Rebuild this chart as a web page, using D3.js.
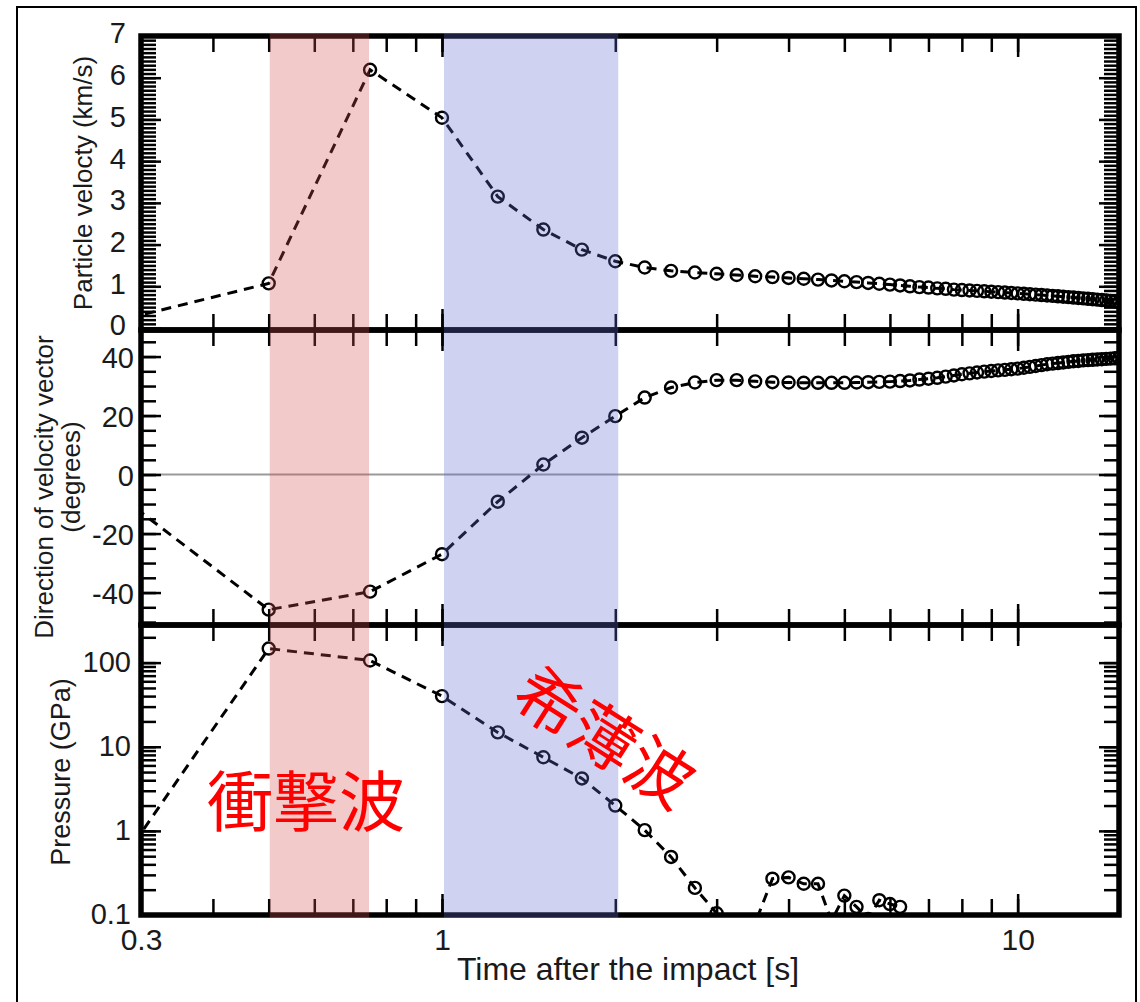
<!DOCTYPE html>
<html>
<head>
<meta charset="utf-8">
<script src="https://cdn.jsdelivr.net/npm/d3@7"></script>
<style>
  body { margin: 0; background: #fff; }
  text { font-family: "Liberation Sans", Arial, sans-serif; fill: #1a1a1a; }
</style>
</head>
<body>
<svg width="1140" height="1002"></svg>
<script>
// values, one sample every 0.25 s
const times = [0.25, 0.5, 0.75, 1, 1.25, 1.5, 1.75, 2, 2.25, 2.5, 2.75, 3, 3.25, 3.5, 3.75, 4,
  4.25, 4.5, 4.75, 5, 5.25, 5.5, 5.75, 6, 6.25, 6.5, 6.75, 7, 7.25, 7.5, 7.75, 8,
  8.25, 8.5, 8.75, 9, 9.25, 9.5, 9.75, 10, 10.25, 10.5, 10.75, 11, 11.25, 11.5, 11.75, 12,
  12.25, 12.5, 12.75, 13, 13.25, 13.5, 13.75, 14, 14.25, 14.5, 14.75, 15];

const velocity = [0.04, 1.07, 6.19, 5.04, 3.15, 2.36, 1.88, 1.6,
  1.45, 1.37, 1.33, 1.3, 1.27, 1.24, 1.22, 1.2,
  1.18, 1.16, 1.14, 1.12, 1.1, 1.08, 1.06, 1.04,
  1.02, 1.0, 0.98, 0.97, 0.95, 0.94, 0.92, 0.91,
  0.9, 0.89, 0.88, 0.87, 0.86, 0.85, 0.84, 0.83,
  0.82, 0.81, 0.8, 0.79, 0.78, 0.77, 0.76, 0.75,
  0.74, 0.73, 0.72, 0.71, 0.7, 0.69, 0.68, 0.67,
  0.66, 0.65, 0.64, 0.62];

const direction = [-1, -45.8, -39.7, -27, -9.2, 3.4, 12.5, 19.8,
  26.1, 29.5, 31.2, 32, 32, 31.6, 31.3, 31.2,
  31.1, 31.1, 31.1, 31.1, 31.2, 31.3, 31.4, 31.5,
  31.7, 31.9, 32.2, 32.5, 32.8, 33.2, 33.6, 34,
  34.3, 34.6, 34.9, 35.1, 35.3, 35.5, 35.7, 35.9,
  36.2, 36.5, 36.8, 37.1, 37.4, 37.6, 37.8, 38,
  38.2, 38.4, 38.5, 38.7, 38.8, 38.9, 39, 39.1,
  39.2, 39.3, 39.4, 39.5];

// pressure only up to 6.25 s (the rest is below 0.1 GPa)
const pressure = [0.155, 147, 106, 40, 14.8, 7.5, 4.2, 2.0,
  1.02, 0.49, 0.21, 0.105, 0.04, 0.08, 0.27, 0.28,
  0.235, 0.235, 0.085, 0.17, 0.125, 0.09, 0.15, 0.135, 0.125];

const xTickLabels = [0.3, 1, 10];
const velTickLabels = [0, 1, 2, 3, 4, 5, 6, 7];
const dirTickLabels = [-40, -20, 0, 20, 40];
const presTickLabels = [0.1, 1, 10, 100];

const shockBand = [0.5, 0.75];
const rarefactionBand = [1, 2];

// layout
const left = 141, right = 1119;
const svg = d3.select("svg");

const x = d3.scaleLog().domain([0.3, 15]).range([left, right]);
const xMinor = x.ticks();
const xMajor = [1, 10];

const isDecade = v => Math.abs(Math.log10(v) - Math.round(Math.log10(v))) < 1e-9;

const yVel = d3.scaleLinear().domain([0, 7]).range([328, 36]);
const yDir = d3.scaleLinear().domain([-51, 49]).range([625, 330]);
const yPres = d3.scaleLog().domain([0.1, 280]).range([915, 625]);

const panels = [
  { top: 36, bottom: 330, y: yVel, values: velocity, labels: velTickLabels, labelX: 126, dy: "0.24em",
    minor: yVel.ticks(70), major: yVel.ticks(7) },
  { top: 330, bottom: 625, y: yDir, values: direction, labels: dirTickLabels, labelX: 134, dy: "0.36em",
    minor: yDir.ticks(20), major: dirTickLabels },
  { top: 625, bottom: 915, y: yPres, values: pressure, labels: presTickLabels, labelX: 131, dy: "0.3em",
    minor: yPres.ticks(), major: yPres.ticks().filter(isDecade) }
];

const defs = svg.append("defs");

function tickGroup(g, axis, tx, ty) {
  const a = g.append("g").attr("transform", "translate(" + tx + "," + ty + ")").call(axis);
  a.select(".domain").remove();
  a.selectAll("line").attr("stroke", "#000").attr("stroke-width", 2.5);
  return a;
}

panels.forEach(function(p, i) {
  const g = svg.append("g");
  const y = p.y;

  defs.append("clipPath").attr("id", "clip" + i)
    .append("rect")
    .attr("x", left).attr("y", p.top)
    .attr("width", right - left).attr("height", p.bottom - p.top);

  // zero line in the direction panel
  if (i === 1) {
    g.append("line")
      .attr("x1", left).attr("x2", right)
      .attr("y1", y(0)).attr("y2", y(0))
      .attr("stroke", "#9a9a9a").attr("stroke-width", 2);
  }

  const pts = p.values.map((v, k) => ({ t: times[k], v: v }));

  g.append("path")
    .datum(pts)
    .attr("clip-path", "url(#clip" + i + ")")
    .attr("d", d3.line().x(d => x(d.t)).y(d => y(d.v)))
    .attr("fill", "none")
    .attr("stroke", "#000")
    .attr("stroke-width", 3)
    .attr("stroke-dasharray", "10,7");

  g.append("g")
    .attr("clip-path", "url(#clip" + i + ")")
    .selectAll("circle")
    .data(pts)
    .join("circle")
      .attr("cx", d => x(d.t))
      .attr("cy", d => y(d.v))
      .attr("r", 6)
      .attr("fill", "none")
      .attr("stroke", "#000")
      .attr("stroke-width", 2.4);

  // inward ticks on all four sides
  tickGroup(g, d3.axisLeft(y).tickValues(p.minor).tickSize(-15).tickFormat(""), left, 0);
  tickGroup(g, d3.axisLeft(y).tickValues(p.major).tickSize(-20).tickFormat(""), left, 0);
  tickGroup(g, d3.axisRight(y).tickValues(p.minor).tickSize(-15).tickFormat(""), right, 0);
  tickGroup(g, d3.axisRight(y).tickValues(p.major).tickSize(-20).tickFormat(""), right, 0);
  tickGroup(g, d3.axisTop(x).tickValues(xMinor).tickSize(-16).tickFormat(""), 0, p.top);
  tickGroup(g, d3.axisTop(x).tickValues(xMajor).tickSize(-21).tickFormat(""), 0, p.top);
  tickGroup(g, d3.axisBottom(x).tickValues(xMinor).tickSize(-16).tickFormat(""), 0, p.bottom);
  tickGroup(g, d3.axisBottom(x).tickValues(xMajor).tickSize(-21).tickFormat(""), 0, p.bottom);

  // tick labels
  const lab = g.append("g")
    .attr("transform", "translate(" + left + ",0)")
    .call(d3.axisLeft(y).tickValues(p.labels).tickSize(0).tickPadding(left - p.labelX).tickFormat(d => String(d)));
  lab.select(".domain").remove();
  lab.selectAll("text")
    .attr("dy", p.dy)
    .style("font-family", "'Liberation Sans', Arial, sans-serif")
    .style("font-size", "29px")
    .style("fill", "#1a1a1a");

  // frame
  g.append("rect")
    .attr("x", left).attr("y", p.top)
    .attr("width", right - left).attr("height", p.bottom - p.top)
    .attr("fill", "none")
    .attr("stroke", "#000")
    .attr("stroke-width", 5.5);
});

// x labels under the bottom panel
const xl = svg.append("g")
  .attr("transform", "translate(0,915)")
  .call(d3.axisBottom(x).tickValues(xTickLabels).tickSize(0).tickPadding(14).tickFormat(d => String(d)));
xl.select(".domain").remove();
xl.selectAll("text")
  .style("font-family", "'Liberation Sans', Arial, sans-serif")
  .style("font-size", "30px")
  .style("fill", "#1a1a1a");

// shaded time windows, laid over everything with transparency
svg.append("rect")
  .attr("x", x(shockBand[0]) + 1).attr("y", 33)
  .attr("width", x(shockBand[1]) - x(shockBand[0]) - 2).attr("height", 885)
  .attr("fill", "rgb(212,78,78)").attr("fill-opacity", 0.3);
svg.append("rect")
  .attr("x", x(rarefactionBand[0]) + 2).attr("y", 33)
  .attr("width", x(rarefactionBand[1]) - x(rarefactionBand[0]) + 1).attr("height", 885)
  .attr("fill", "rgb(95,108,208)").attr("fill-opacity", 0.3);

// axis titles
svg.append("text")
  .attr("transform", "translate(92,183) rotate(-90)")
  .attr("text-anchor", "middle")
  .style("font-size", "26px")
  .text("Particle velocty (km/s)");
svg.append("text")
  .attr("transform", "translate(53,487) rotate(-90)")
  .attr("text-anchor", "middle")
  .style("font-size", "26px")
  .text("Direction of velocity vector");
svg.append("text")
  .attr("transform", "translate(80,477) rotate(-90)")
  .attr("text-anchor", "middle")
  .style("font-size", "26px")
  .text("(degrees)");
svg.append("text")
  .attr("transform", "translate(70,772) rotate(-90)")
  .attr("text-anchor", "middle")
  .style("font-size", "27px")
  .text("Pressure (GPa)");
svg.append("text")
  .attr("x", 628).attr("y", 980)
  .attr("text-anchor", "middle")
  .style("font-size", "32px")
  .text("Time after the impact [s]");

// Japanese annotations
svg.append("text")
  .attr("x", 306).attr("y", 797)
  .attr("text-anchor", "middle")
  .attr("dominant-baseline", "central")
  .style("font-family", "'Noto Sans CJK JP'")
  .style("font-size", "66px")
  .style("fill", "#ff0000")
  .text("衝撃波");
svg.append("text")
  .attr("transform", "translate(607,733) rotate(32.5)")
  .attr("text-anchor", "middle")
  .attr("dominant-baseline", "central")
  .style("font-family", "'Noto Sans CJK JP'")
  .style("font-size", "66px")
  .style("fill", "#ff0000")
  .text("希薄波");

// outer frame
svg.append("rect")
  .attr("x", 17).attr("y", 7)
  .attr("width", 1119).attr("height", 1010)
  .attr("fill", "none")
  .attr("stroke", "#000")
  .attr("stroke-width", 2);
</script>
</body>
</html>
